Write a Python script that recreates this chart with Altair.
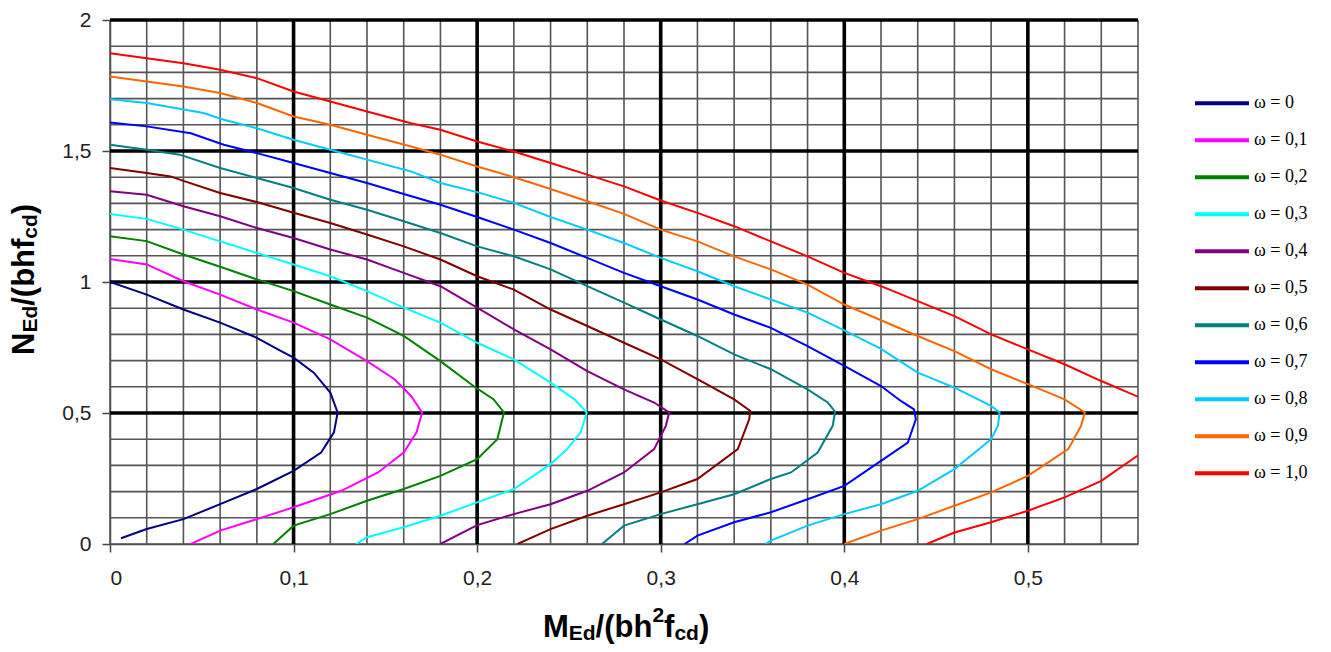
import altair as alt
import pandas as pd

# ---------------- data ----------------
omega_labels = ["ω = 0", "ω = 0,1", "ω = 0,2", "ω = 0,3", "ω = 0,4", "ω = 0,5",
                "ω = 0,6", "ω = 0,7", "ω = 0,8", "ω = 0,9", "ω = 1,0"]
colors = ["#000080", "#FF00FF", "#008000", "#00FFFF", "#800080", "#800000",
          "#008080", "#0000FF", "#00CCFF", "#FF6600", "#FF0000"]

M_w00 = [0, 0.020, 0.040, 0.060, 0.080, 0.093, 0.100, 0.111, 0.120, 0.124, 0.122, 0.115, 0.100, 0.080, 0.060, 0.040, 0.020, 0.006]
N_w00 = [1.000, 0.952, 0.895, 0.845, 0.787, 0.737, 0.711, 0.654, 0.578, 0.502, 0.426, 0.349, 0.279, 0.210, 0.152, 0.095, 0.057, 0.022]

M_w01 = [0, 0.02, 0.04, 0.06, 0.08, 0.10, 0.12, 0.14, 0.155, 0.164, 0.170, 0.167, 0.160, 0.146, 0.126, 0.10, 0.08, 0.06, 0.044]
N_w01 = [1.088, 1.067, 1.003, 0.952, 0.895, 0.845, 0.781, 0.698, 0.629, 0.565, 0.502, 0.426, 0.349, 0.273, 0.203, 0.140, 0.095, 0.051, 0.0]

M_w02 = [0, 0.02, 0.04, 0.06, 0.08, 0.10, 0.12, 0.14, 0.16, 0.18, 0.198, 0.209, 0.2146, 0.211, 0.200, 0.18, 0.16, 0.14, 0.12, 0.10, 0.089]
N_w02 = [1.175, 1.156, 1.105, 1.058, 1.010, 0.965, 0.914, 0.864, 0.794, 0.698, 0.603, 0.552, 0.502, 0.400, 0.324, 0.260, 0.210, 0.165, 0.114, 0.070, 0.0]

M_w03 = [0, 0.02, 0.04, 0.06, 0.08, 0.10, 0.12, 0.14, 0.16, 0.18, 0.20, 0.22, 0.24, 0.253, 0.2597, 0.2564, 0.249, 0.24, 0.22, 0.20, 0.18, 0.16, 0.14, 0.134]
N_w03 = [1.260, 1.241, 1.200, 1.155, 1.111, 1.067, 1.022, 0.965, 0.902, 0.845, 0.768, 0.705, 0.616, 0.552, 0.502, 0.426, 0.362, 0.305, 0.210, 0.159, 0.108, 0.064, 0.026, 0.0]

M_w04 = [0, 0.02, 0.04, 0.06, 0.08, 0.10, 0.12, 0.14, 0.16, 0.18, 0.20, 0.22, 0.24, 0.26, 0.28, 0.2964, 0.3046, 0.3028, 0.2964, 0.28, 0.26, 0.24, 0.22, 0.20, 0.18]
N_w04 = [1.346, 1.333, 1.289, 1.251, 1.206, 1.168, 1.124, 1.086, 1.035, 0.984, 0.902, 0.819, 0.743, 0.660, 0.590, 0.540, 0.502, 0.451, 0.362, 0.273, 0.203, 0.152, 0.114, 0.072, 0.0]

M_w05 = [0, 0.02, 0.033, 0.04, 0.06, 0.08, 0.10, 0.12, 0.14, 0.16, 0.18, 0.20, 0.22, 0.24, 0.26, 0.28, 0.30, 0.32, 0.34, 0.3488, 0.3482, 0.342, 0.32, 0.30, 0.28, 0.26, 0.24, 0.222]
N_w05 = [1.435, 1.416, 1.403, 1.386, 1.340, 1.305, 1.264, 1.225, 1.181, 1.136, 1.086, 1.022, 0.971, 0.895, 0.832, 0.768, 0.705, 0.629, 0.552, 0.508, 0.476, 0.362, 0.248, 0.197, 0.152, 0.108, 0.057, 0.0]

M_w06 = [0, 0.02, 0.038, 0.06, 0.08, 0.10, 0.12, 0.14, 0.16, 0.18, 0.20, 0.22, 0.24, 0.26, 0.28, 0.30, 0.32, 0.34, 0.36, 0.38, 0.391, 0.395, 0.3937, 0.3855, 0.371, 0.36, 0.34, 0.32, 0.30, 0.28, 0.268]
N_w06 = [1.524, 1.505, 1.486, 1.435, 1.397, 1.359, 1.314, 1.276, 1.232, 1.187, 1.136, 1.098, 1.048, 0.984, 0.921, 0.857, 0.794, 0.724, 0.667, 0.590, 0.540, 0.505, 0.451, 0.349, 0.273, 0.248, 0.190, 0.152, 0.114, 0.070, 0.0]

M_w07 = [0, 0.02, 0.044, 0.062, 0.08, 0.10, 0.12, 0.14, 0.16, 0.18, 0.20, 0.22, 0.24, 0.26, 0.28, 0.30, 0.32, 0.34, 0.36, 0.38, 0.40, 0.42, 0.431, 0.438, 0.439, 0.4346, 0.42, 0.40, 0.38, 0.36, 0.34, 0.32, 0.313]
N_w07 = [1.609, 1.594, 1.568, 1.524, 1.492, 1.454, 1.416, 1.378, 1.336, 1.295, 1.248, 1.200, 1.149, 1.092, 1.035, 0.984, 0.933, 0.876, 0.825, 0.755, 0.680, 0.603, 0.545, 0.514, 0.476, 0.387, 0.317, 0.222, 0.171, 0.121, 0.083, 0.032, 0.0]

M_w08 = [0, 0.02, 0.051, 0.062, 0.08, 0.10, 0.12, 0.14, 0.164, 0.18, 0.20, 0.22, 0.24, 0.26, 0.28, 0.30, 0.32, 0.34, 0.36, 0.38, 0.40, 0.42, 0.44, 0.46, 0.48, 0.4846, 0.4837, 0.48, 0.46, 0.44, 0.42, 0.40, 0.38, 0.36, 0.357]
N_w08 = [1.698, 1.683, 1.645, 1.619, 1.587, 1.543, 1.505, 1.467, 1.422, 1.378, 1.343, 1.302, 1.248, 1.200, 1.149, 1.092, 1.041, 0.984, 0.933, 0.883, 0.815, 0.745, 0.654, 0.597, 0.527, 0.502, 0.451, 0.400, 0.286, 0.203, 0.152, 0.114, 0.070, 0.013, 0.0]

M_w09 = [0, 0.02, 0.04, 0.06, 0.08, 0.10, 0.12, 0.14, 0.164, 0.18, 0.20, 0.22, 0.24, 0.26, 0.28, 0.30, 0.32, 0.34, 0.36, 0.38, 0.40, 0.42, 0.44, 0.46, 0.48, 0.50, 0.52, 0.531, 0.529, 0.522, 0.50, 0.48, 0.46, 0.44, 0.42, 0.40]
N_w09 = [1.784, 1.765, 1.746, 1.721, 1.683, 1.632, 1.600, 1.562, 1.517, 1.486, 1.441, 1.400, 1.355, 1.308, 1.260, 1.200, 1.155, 1.098, 1.048, 0.990, 0.914, 0.854, 0.794, 0.736, 0.667, 0.610, 0.552, 0.502, 0.451, 0.362, 0.260, 0.197, 0.146, 0.095, 0.051, 0.0]

M_w10 = [0, 0.02, 0.04, 0.06, 0.08, 0.10, 0.12, 0.14, 0.164, 0.18, 0.20, 0.22, 0.24, 0.26, 0.28, 0.30, 0.32, 0.34, 0.36, 0.38, 0.40, 0.42, 0.44, 0.46, 0.48, 0.50, 0.52, 0.54, 0.561, 0.577, 0.561, 0.54, 0.52, 0.50, 0.48, 0.46, 0.445]
N_w10 = [1.873, 1.854, 1.835, 1.810, 1.778, 1.727, 1.689, 1.651, 1.606, 1.581, 1.536, 1.498, 1.454, 1.410, 1.365, 1.311, 1.264, 1.213, 1.155, 1.098, 1.035, 0.984, 0.927, 0.870, 0.800, 0.743, 0.686, 0.622, 0.559, 0.500, 0.343, 0.241, 0.178, 0.127, 0.083, 0.044, 0.0]

series_M = [M_w00, M_w01, M_w02, M_w03, M_w04, M_w05, M_w06, M_w07, M_w08, M_w09, M_w10]
series_N = [N_w00, N_w01, N_w02, N_w03, N_w04, N_w05, N_w06, N_w07, N_w08, N_w09, N_w10]

x_minor = [0, 0.02, 0.04, 0.06, 0.08, 0.1, 0.12, 0.14, 0.16, 0.18, 0.2, 0.22, 0.24, 0.26, 0.28,
           0.3, 0.32, 0.34, 0.36, 0.38, 0.4, 0.42, 0.44, 0.46, 0.48, 0.5, 0.52, 0.54, 0.56]
x_major = [0.1, 0.2, 0.3, 0.4, 0.5]
y_minor = [0, 0.1, 0.2, 0.3, 0.4, 0.5, 0.6, 0.7, 0.8, 0.9, 1.0, 1.1, 1.2, 1.3, 1.4, 1.5,
           1.6, 1.7, 1.8, 1.9, 2.0]
y_major = [0.5, 1.0, 1.5, 2.0]
x_ticks = [0, 0.1, 0.2, 0.3, 0.4, 0.5]
y_ticks = [0, 0.5, 1, 1.5, 2]

rows = []
for lab, ms, ns in zip(omega_labels, series_M, series_N):
    for i, (m, n) in enumerate(zip(ms, ns)):
        rows.append({"w": lab, "i": i, "M": m, "N": n})
df = pd.DataFrame(rows)

# ---------------- chart ----------------
W, H = 1028, 524
xs = alt.Scale(domain=[0, 0.56], nice=False, zero=False)
ys = alt.Scale(domain=[0, 2], nice=False, zero=False)
comma = "replace(toString(datum.value), '.', ',')"
x_axis = alt.Axis(values=x_ticks, labelExpr=comma, title=None, grid=False, labelPadding=15)
y_axis = alt.Axis(values=y_ticks, labelExpr=comma, title=None, grid=False, labelPadding=11)

minor_v = alt.Chart(pd.DataFrame({"v": x_minor})).mark_rule(
    color="#555555", strokeWidth=1.6).encode(x=alt.X("v:Q", scale=xs, axis=x_axis))
minor_h = alt.Chart(pd.DataFrame({"v": y_minor})).mark_rule(
    color="#555555", strokeWidth=1.6).encode(y=alt.Y("v:Q", scale=ys, axis=y_axis))
major_v = alt.Chart(pd.DataFrame({"v": x_major})).mark_rule(
    color="#000000", strokeWidth=3.6).encode(x=alt.X("v:Q", scale=xs, axis=x_axis))
major_h = alt.Chart(pd.DataFrame({"v": y_major})).mark_rule(
    color="#000000", strokeWidth=3.6).encode(y=alt.Y("v:Q", scale=ys, axis=y_axis))

curves = alt.Chart(df).mark_line(strokeWidth=2, clip=True).encode(
    x=alt.X("M:Q", scale=xs, axis=x_axis),
    y=alt.Y("N:Q", scale=ys, axis=y_axis),
    color=alt.Color("w:N", scale=alt.Scale(domain=omega_labels, range=colors),
                    legend=alt.Legend(title=None, orient="none", legendX=1083, legendY=65,
                                      symbolType="stroke", symbolSize=2916,
                                      symbolStrokeWidth=4, clipHeight=36.7,
                                      rowPadding=0, padding=0, labelOffset=3,
                                      labelFont="Liberation Serif", labelFontSize=18,
                                      labelColor="#000000", labelLimit=200)),
    order="i:Q",
)


def piece(txt, x, y, size, rotate=False):
    props = dict(text=txt, font="Liberation Sans", fontWeight="bold", fontSize=size,
                 align="left", baseline="alphabetic", color="#000000")
    if rotate:
        props["angle"] = 270
    return alt.Chart(alt.Data(values=[{"k": 1}])).mark_text(**props).encode(
        x=alt.value(x), y=alt.value(y))


F, f = 31, 21
titles = [
    # x axis title  M_Ed/(bh^2 f_cd)
    piece("M", 433, 617, F), piece("Ed", 458.8, 620, f), piece("/(bh", 485.6, 617, F),
    piece("2", 542.4, 602, f), piece("f", 554.1, 617, F), piece("cd", 564.4, 620, f),
    piece(")", 588.9, 617, F),
    # y axis title  N_Ed/(bhf_cd)
    piece("N", -76, 335, F, True), piece("Ed", -73, 312.6, f, True),
    piece("/(bh", -76, 285.8, F, True), piece("f", -76, 229, F, True),
    piece("cd", -73, 218.7, f, True), piece(")", -76, 194.2, F, True),
]

chart = alt.layer(minor_v, minor_h, major_v, major_h, curves, *titles).properties(
    width=W, height=H,
    padding={"left": 102, "top": 12, "right": 185, "bottom": 100},
    autosize=alt.AutoSizeParams(type="none"),
).configure_view(strokeWidth=0).configure_axis(
    domainColor="#444444", domainWidth=1.5, tickColor="#444444", tickWidth=1.5,
    tickSize=8, labelFont="Liberation Sans", labelFontSize=21, labelColor="#222222",
)

chart.save("out.html", embed_options={"renderer": "svg", "actions": False})
